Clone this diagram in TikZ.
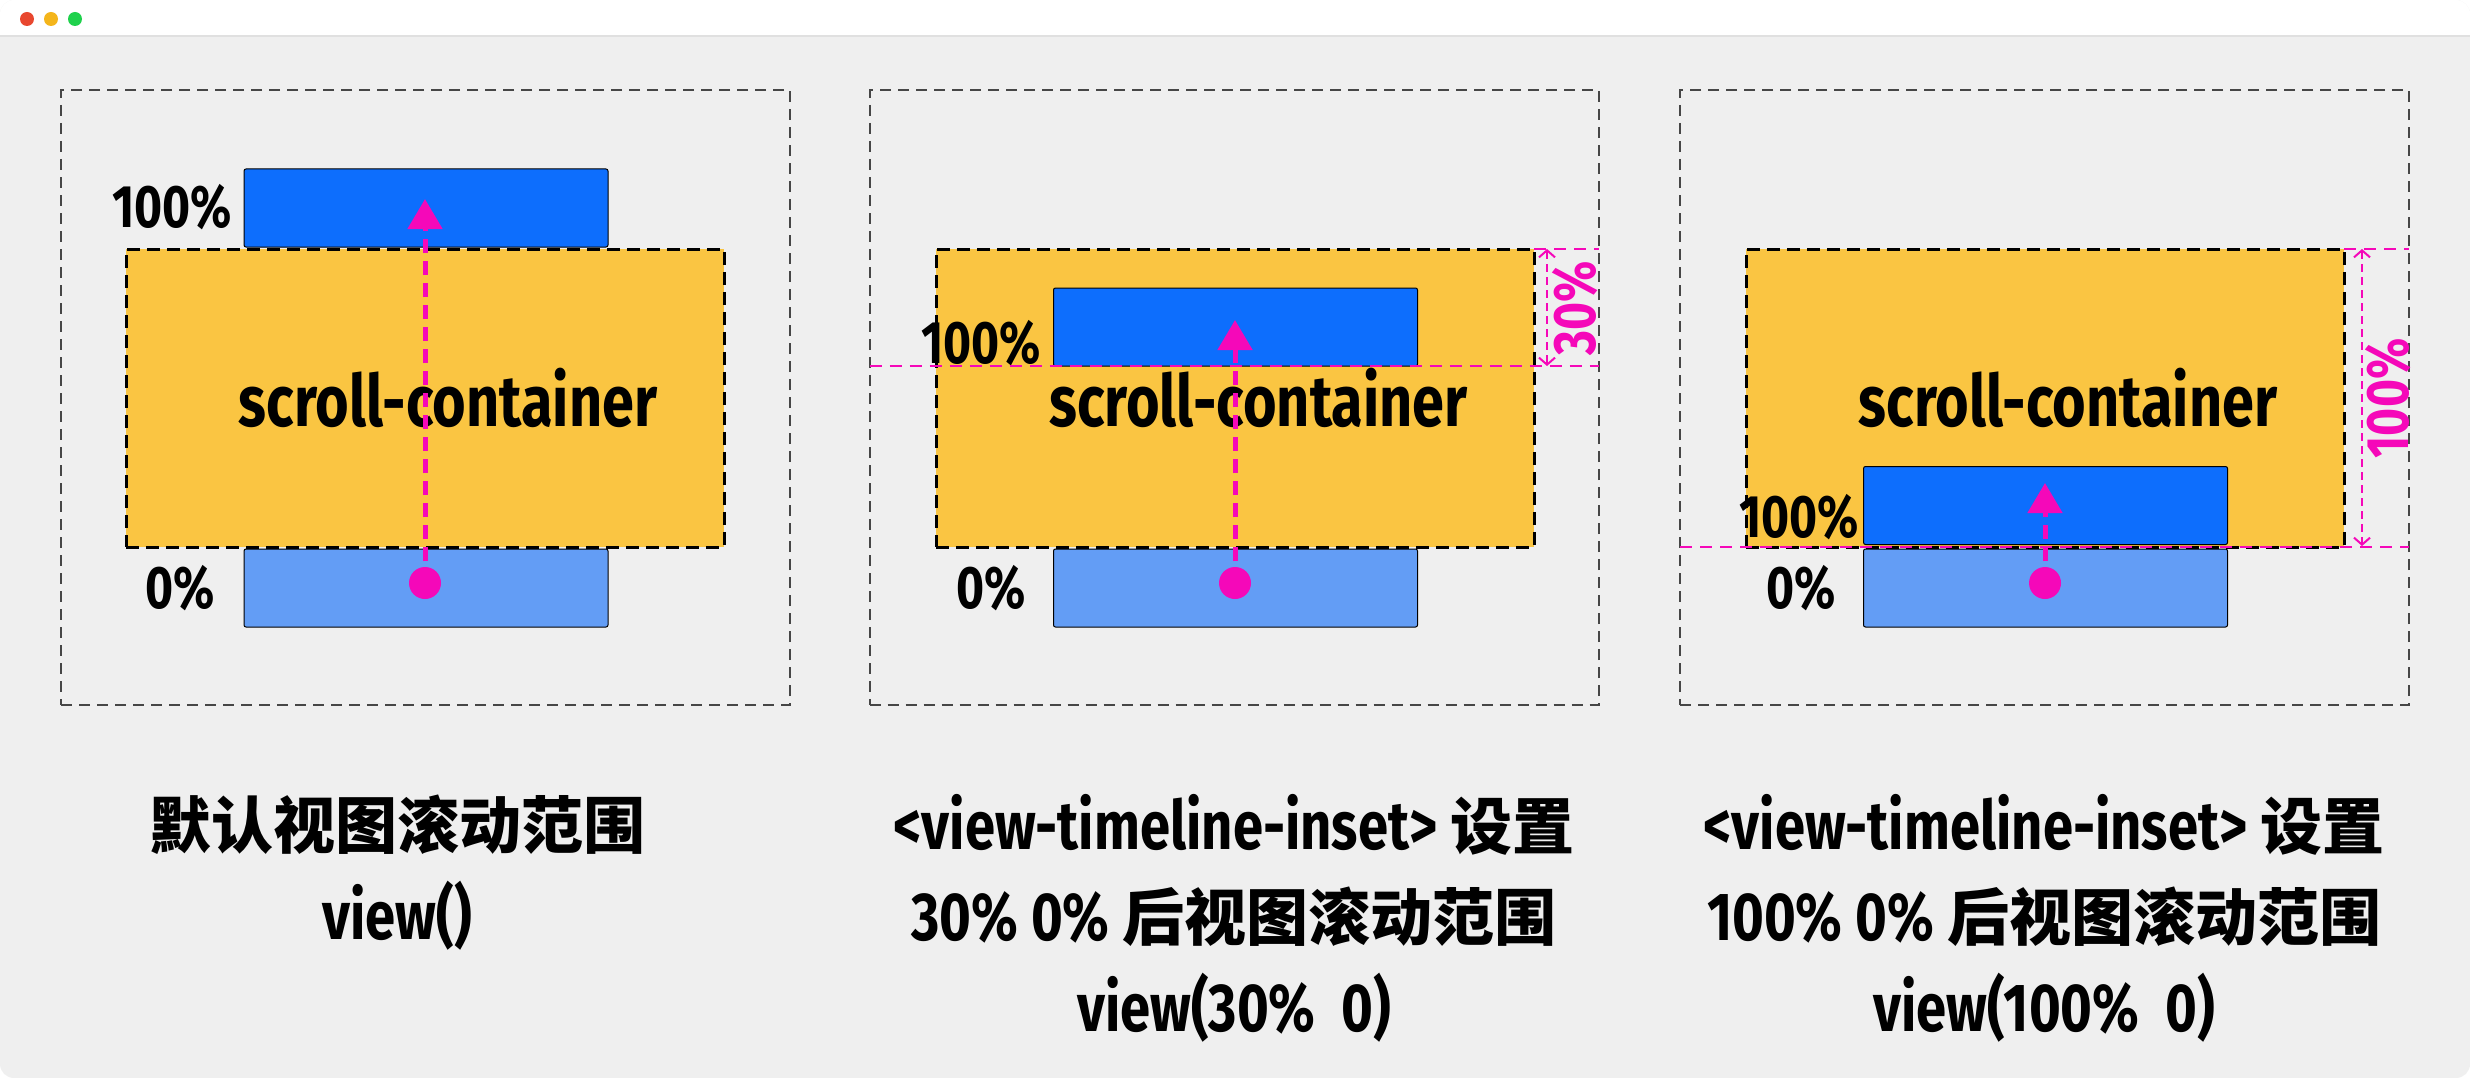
\documentclass[tikz,border=0pt]{standalone}
\usepackage{fontspec}
\setmainfont{Fira Sans}[FakeStretch=0.8]
\newfontfamily\cjk{Noto Sans CJK SC}
\newcommand\zh[1]{{\cjk\fontsize{62}{91}\selectfont #1}}
\usetikzlibrary{arrows.meta}
\definecolor{pagegray}{RGB}{239,239,239}
\definecolor{edgegray}{RGB}{224,224,224}
\definecolor{framegray}{RGB}{70,70,70}
\definecolor{boxyellow}{RGB}{250,197,66}
\definecolor{deepblue}{RGB}{13,110,253}
\definecolor{paleblue}{RGB}{99,157,245}
\definecolor{pinkline}{RGB}{245,8,185}
\definecolor{dotred}{RGB}{232,71,47}
\definecolor{dotyellow}{RGB}{244,181,27}
\definecolor{dotgreen}{RGB}{31,209,76}
\begin{document}
\begin{tikzpicture}[
  x=1pt, y=-1pt,
  every node/.style={inner sep=0pt, outer sep=0pt},
  viewport/.style={draw=framegray, line width=2pt, dash pattern=on 11pt off 7pt,
    minimum width=729pt, minimum height=615pt},
  container/.style={draw=black, fill=boxyellow, line width=3pt, dash pattern=on 13pt off 7pt,
    minimum width=598pt, minimum height=298pt},
  target/.style={draw=black, line width=1pt, rounded corners=2pt,
    minimum width=364pt, minimum height=78pt},
  endbox/.style={target, fill=deepblue},
  startbox/.style={target, fill=paleblue},
  pct/.style={font=\bfseries\fontsize{60}{60}\selectfont, anchor=east},
  sclabel/.style={font=\bfseries\fontsize{72}{72}\selectfont},
  dot/.style={circle, fill=pinkline, minimum size=32pt},
  track/.style={draw=pinkline, line width=5pt, dash pattern=on 14pt off 8pt,
    -{Triangle[length=30pt,width=34pt]}},
  guide/.style={draw=pinkline, line width=2.5pt, dash pattern=on 12pt off 8pt},
  dim/.style={draw=pinkline, line width=2pt, dash pattern=on 8pt off 5pt,
    {Straight Barb[length=7pt,width=16pt]}-{Straight Barb[length=7pt,width=16pt]}},
  dimlabel/.style={font=\bfseries\fontsize{60}{60}\selectfont, text=pinkline, rotate=90},
  caption/.style={font=\bfseries\fontsize{68}{91}\selectfont, align=center}
]
\useasboundingbox (0,0) rectangle (2470,1078);
\begin{scope}
\clip[rounded corners=14pt] (0,0) rectangle (2470,1078);
\fill[pagegray] (0,0) rectangle (2470,1078);
\fill[white] (0,0) rectangle (2470,36);
\draw[edgegray, line width=2pt] (0,36) -- (2470,36);
\end{scope}
\fill[dotred] (27,19) circle (7);
\fill[dotyellow] (51,19) circle (7);
\fill[dotgreen] (75,19) circle (7);

\node[viewport] (view1) at (425.5,397.5) {};
\node[endbox] (end1) at (426,208) {};
\node[container] (box1) at (425,398) {};
\node[startbox] (start1) at (426,588) {};
\node[sclabel] (text1) at (448,398) {scroll-container};
\node[pct] (top1) at (232,207) {100\%};
\node[pct] (bot1) at (215,588) {0\%};
\node[dot] (from1) at (425,583) {};
\coordinate (to1) at (425,199);
\draw[track] (from1.center) -- (to1);

\node[viewport] (view2) at (1234,397.5) {};
\node[container] (box2) at (1235,398) {};
\node[endbox] (end2) at (1235.5,327) {};
\node[startbox] (start2) at (1235.5,588) {};
\node[sclabel] (text2) at (1258.5,398) {scroll-container};
\node[pct] (top2) at (1041,343) {100\%};
\node[pct] (bot2) at (1026,588) {0\%};
\node[dot] (from2) at (1235,583) {};
\coordinate (to2) at (1235,320);
\draw[track] (from2.center) -- (to2);
\draw[guide] (view2.west |- end2.south) -- (view2.east |- end2.south);
\draw[guide] (box2.north east) -- (view2.east |- box2.north);
\coordinate (dimtop2) at (1547,249);
\coordinate (dimbot2) at (1547,366);
\draw[dim] (dimtop2) -- (dimbot2);
\node[dimlabel] (inset2) at (1575,308) {30\%};

\node[viewport] (view3) at (2044.5,397.5) {};
\node[container] (box3) at (2045,398) {};
\node[endbox] (end3) at (2045.5,505.5) {};
\node[startbox] (start3) at (2045.5,588) {};
\node[sclabel] (text3) at (2068,398) {scroll-container};
\node[pct] (top3) at (1859,517.5) {100\%};
\node[pct] (bot3) at (1836,588) {0\%};
\node[dot] (from3) at (2045,583) {};
\coordinate (to3) at (2045,483);
\draw[track] (from3.center) -- (to3);
\draw[guide] (view3.west |- box3.south) -- (view3.east |- box3.south);
\draw[guide] (box3.north east) -- (view3.east |- box3.north);
\coordinate (dimtop3) at (2362,249);
\coordinate (dimbot3) at (2362,546);
\draw[dim] (dimtop3) -- (dimbot3);
\node[dimlabel] (inset3) at (2388,398.5) {100\%};

\node[caption] (note1) at (397,873) {\zh{默认视图滚动范围}\\view()};
\node[caption] (note2) at (1234,918) {<view-timeline-inset> \zh{设置}\\30\% 0\% \zh{后视图滚动范围}\\view(30\%\ \ 0)};
\node[caption] (note3) at (2044,918) {<view-timeline-inset> \zh{设置}\\100\% 0\% \zh{后视图滚动范围}\\view(100\%\ \ 0)};
\end{tikzpicture}
\end{document}
